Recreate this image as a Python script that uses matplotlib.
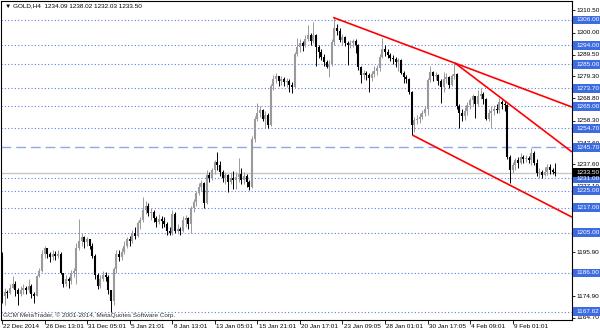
import matplotlib
matplotlib.use("Agg")
import matplotlib.pyplot as plt
from matplotlib.patches import Rectangle

# GOLD H4 bars (open of each bar = previous close)
first_open = 1194.0
closes = [1175, 1177, 1176.5, 1179, 1181, 1178, 1176, 1178, 1179, 1178, 1180, 1176, 1175, 1184.5, 1187, 1195,
          1198, 1195, 1193.5, 1195, 1194, 1195, 1186, 1181, 1183, 1182, 1186, 1187, 1198, 1201, 1203, 1200.5,
          1202, 1199, 1194, 1185, 1180, 1183, 1185, 1184, 1178, 1172.5, 1188, 1195, 1193.5, 1196, 1199, 1202,
          1201, 1205, 1203.5, 1209.5, 1211, 1216, 1218, 1214.5, 1215, 1212, 1210, 1211.5, 1210.5, 1209, 1206, 1205,
          1214, 1206, 1207, 1206, 1211, 1212, 1209, 1217, 1219.5, 1224, 1227, 1228.5, 1219, 1232.5, 1231, 1235,
          1238.5, 1237, 1234, 1231, 1232.5, 1229, 1231, 1230, 1231.5, 1233, 1230, 1232, 1229, 1227, 1249.5, 1259,
          1262, 1263.5, 1259, 1261, 1256, 1274.5, 1278, 1279.5, 1277, 1278, 1276.5, 1277, 1275, 1274, 1290, 1293,
          1295, 1293.5, 1297, 1299, 1296, 1299, 1293, 1291, 1288.5, 1286, 1283.5, 1285, 1295.5, 1302, 1301, 1296.5,
          1298, 1295, 1294, 1295, 1296, 1294, 1283.5, 1280, 1281, 1280, 1278.5, 1280.5, 1282, 1283, 1288.5, 1292,
          1291, 1289.5, 1288, 1287.5, 1286, 1287, 1281, 1279, 1278, 1272, 1256, 1258.5, 1259, 1260, 1262, 1264,
          1277.5, 1281.5, 1279.5, 1280, 1277, 1274, 1278, 1279, 1275, 1279.5, 1280.5, 1265, 1262, 1260.5, 1263, 1265.5,
          1268, 1270, 1266, 1270, 1271, 1268.5, 1259, 1262, 1263, 1264, 1263.5, 1267, 1266, 1265.5, 1241, 1235,
          1237, 1239.5, 1238, 1241, 1240, 1240.5, 1239.5, 1243, 1238, 1233.5, 1234, 1232.5, 1234, 1236.5, 1235, 1234.09,
          1233.50]
highs = [1196, 1179, 1178, 1181, 1184.5, 1182, 1179, 1180, 1181, 1180, 1183, 1181, 1177, 1185, 1188.5, 1197,
         1199, 1198, 1196, 1197, 1196.5, 1197, 1196, 1186, 1185, 1184, 1187.5, 1188.5, 1200, 1211.5, 1205, 1203.5,
         1203, 1202, 1200, 1195, 1186, 1185, 1187, 1186.5, 1185, 1178, 1189, 1197, 1197, 1198, 1201, 1203,
         1203.5, 1206.5, 1208, 1210.5, 1212.5, 1222, 1220, 1219, 1217, 1216, 1213, 1214, 1213, 1212.5, 1210, 1208,
         1216, 1215, 1209, 1208, 1213, 1213.5, 1212.5, 1218, 1221, 1225, 1228.5, 1230, 1229, 1235, 1234, 1236,
         1239.5, 1243.5, 1239, 1235, 1234, 1233, 1234, 1234.5, 1234, 1240.5, 1236, 1234, 1233, 1230, 1251, 1260.5,
         1266.5, 1265, 1264, 1263, 1262, 1275.5, 1280, 1281, 1279.5, 1279.5, 1279, 1278.5, 1278, 1276.5, 1291, 1297.5,
         1297, 1296, 1299, 1303.5, 1300, 1305, 1299.5, 1294, 1292, 1290, 1287, 1287, 1297, 1307.5, 1304, 1302,
         1299.5, 1298.5, 1296, 1296.5, 1297, 1297, 1294.5, 1284, 1282.5, 1282, 1281, 1282, 1284, 1284.5, 1290, 1297.5,
         1294, 1292, 1290.5, 1289.5, 1288.5, 1288, 1287.5, 1282, 1280, 1278.5, 1272.5, 1260, 1261, 1262, 1263.5, 1265,
         1278.5, 1284, 1282, 1281.5, 1280.5, 1278, 1281.5, 1281, 1279.5, 1280.5, 1285.5, 1281, 1266, 1264, 1264.5, 1267,
         1269, 1271, 1268.5, 1273, 1273.7, 1272, 1269, 1264, 1265, 1265.5, 1266, 1269, 1268, 1267.5, 1266, 1242,
         1238.5, 1240.5, 1241, 1243, 1242, 1242, 1241.5, 1245.3, 1244, 1240, 1236, 1235, 1236.5, 1237.5, 1237.5, 1236,
         1238.02]
lows = [1172, 1171, 1174, 1176, 1179, 1175, 1171, 1175, 1176, 1176, 1177, 1174, 1172, 1175, 1184, 1186.5,
        1193, 1193, 1191, 1192, 1192, 1193, 1185.5, 1179.5, 1180, 1179, 1181, 1184, 1181, 1197, 1199, 1198,
        1199, 1197.5, 1193, 1183, 1178.5, 1179, 1182, 1182, 1176, 1167.62, 1171, 1186, 1191.5, 1192, 1195, 1198,
        1199, 1200, 1202, 1203, 1207, 1210, 1214, 1213, 1211, 1210, 1208, 1209, 1207.5, 1208, 1204, 1204,
        1204, 1205, 1204.5, 1204, 1205.5, 1208, 1207, 1205, 1215, 1218, 1223, 1225, 1217, 1218.5, 1229, 1230,
        1233, 1235, 1232, 1229, 1228, 1224.5, 1228, 1226, 1226, 1229, 1228, 1228, 1227, 1225.5, 1226.5, 1248,
        1258, 1260, 1258, 1255, 1255, 1255.5, 1273, 1276, 1274.5, 1275, 1274.5, 1274, 1272, 1271.5, 1273.5, 1289,
        1291, 1291.5, 1293, 1296, 1294, 1295, 1284, 1288, 1287, 1284, 1283, 1279, 1284, 1294, 1299, 1295.5,
        1294, 1293.5, 1284.5, 1292.5, 1293, 1290.5, 1282.5, 1276, 1278, 1277.5, 1272, 1277, 1279, 1280, 1282, 1288,
        1289, 1288, 1286.5, 1285, 1283.5, 1282, 1280.5, 1276, 1276, 1271, 1251.5, 1253, 1256.5, 1257, 1259, 1260.5,
        1261, 1276.5, 1277, 1277.5, 1275, 1266.5, 1272, 1276, 1273.5, 1274.5, 1278, 1264, 1255, 1258, 1258.5, 1261,
        1264, 1265, 1259.5, 1265, 1268.5, 1266, 1258.5, 1258, 1255, 1261, 1262, 1262, 1264, 1263, 1240, 1228.7,
        1233.5, 1235, 1236, 1237.5, 1238, 1238.5, 1238, 1237, 1237, 1232, 1231, 1231, 1232, 1232.5, 1233, 1233,
        1232.03]
opens = [first_open] + closes[:-1]

date_labels = ["22 Dec 2014", "26 Dec 13:01", "31 Dec 05:01", "5 Jan 21:01", "8 Jan 13:01",
               "13 Jan 05:01", "15 Jan 21:01", "20 Jan 17:01", "23 Jan 09:05", "28 Jan 01:01",
               "30 Jan 17:05", "4 Feb 09:01", "9 Feb 01:01"]
date_bars = [0, 16, 32, 48, 64, 80, 96, 112, 128, 144, 160, 176, 192]

price_ticks = [1310.50, 1300.00, 1289.50, 1279.30, 1268.80, 1258.30, 1247.60, 1237.60,
               1227.10, 1216.60, 1206.10, 1195.90, 1185.40, 1174.90, 1164.70]
# tick labels fully covered by the level boxes in the reference
hidden_ticks = [1216.60, 1206.10, 1185.40]
dotted_levels = [1306.00, 1294.00, 1285.00, 1273.70, 1265.00, 1254.70,
                 1231.00, 1225.00, 1217.00, 1205.00, 1186.00, 1167.62]
dashed_level = 1245.70
last_price = 1233.50

# trend lines: (bar, price) start and end
trend_lines = [((124.5, 1307.2), (214.3, 1264.7)),
               ((170.3, 1285.6), (214.3, 1243.4)),
               ((154.3, 1251.4), (214.3, 1212.5))]

fig = plt.figure(figsize=(6, 3.33), dpi=100)
ax = fig.add_axes([1 / 600, 1 - 320 / 333, 571 / 600, 319 / 333])
ax.set_xlim(-0.38, 214.3)
ax.set_ylim(1163.7, 1315.0)

font = dict(family=["Liberation Sans", "DejaVu Sans"], fontsize=4.6)

for lv in dotted_levels:
    ax.axhline(lv, color="#5b7fe6", lw=0.8, ls=(0, (1, 2)), zorder=1)
ax.axhline(dashed_level, color="#8ca8f0", lw=1.0, ls=(0, (7, 3.6)), zorder=1)
ax.axhline(last_price, color="#c8c8c8", lw=1.0, zorder=1)

bars = range(len(closes))
cols = ["#9a9a9a" if c >= o else "black" for o, c in zip(opens, closes)]
ax.vlines(bars, lows, highs, colors=cols, lw=0.7, zorder=2)
ax.vlines(bars, opens, closes, colors=cols, lw=1.5, zorder=2)

for (x0, y0), (x1, y1) in trend_lines:
    ax.plot([x0, x1], [y0, y1], color="red", lw=1.2, zorder=3, solid_capstyle="butt")

for s in ax.spines.values():
    s.set_color("black")
    s.set_linewidth(0.8)

ax.yaxis.tick_right()
ax.set_yticks(price_ticks)
ax.set_yticklabels([])
ax.tick_params(axis="y", length=2.5, width=0.6, direction="out")
ax.set_xticks(date_bars)
ax.set_xticklabels([])
ax.tick_params(axis="x", length=3, width=0.6, direction="out")

ytr = ax.get_yaxis_transform()
for p in price_ticks:
    if p in hidden_ticks:
        continue
    ax.text(1.008, p, f"{p:.2f}", transform=ytr, ha="left", va="center", zorder=5, **font)

boxed = dotted_levels + [dashed_level]
for p in boxed:
    ax.add_patch(Rectangle((1.002, p - 2.1), 0.048, 4.2, transform=ytr, clip_on=False,
                           facecolor="#3d6be0", edgecolor="none", zorder=6))
    ax.text(1.008, p, f"{p:.2f}", transform=ytr, ha="left", va="center", color="white", zorder=7, **font)
ax.add_patch(Rectangle((1.002, last_price - 2.1), 0.048, 4.2, transform=ytr, clip_on=False,
                       facecolor="black", edgecolor="none", zorder=6))
ax.text(1.008, last_price, f"{last_price:.2f}", transform=ytr, ha="left", va="center",
        color="white", zorder=7, **font)

xtr = ax.get_xaxis_transform()
for b, lab in zip(date_bars, date_labels):
    ax.text(b + 0.5, -0.012, lab, transform=xtr, ha="left", va="top", **font)

ax.text(0.007, 0.984, "\u25bc GOLD,H4  %.2f %.2f %.2f %.2f" % (opens[-1], highs[-1], lows[-1], closes[-1]),
        transform=ax.transAxes, ha="left", va="center", **font)
ax.text(0.004, 0.015, "GCM MetaTrader, \u00a9 2001-2014, MetaQuotes Software Corp.",
        transform=ax.transAxes, ha="left", va="center", color="#333333", **font)

fig.savefig("out.png", dpi=100, facecolor="white")
